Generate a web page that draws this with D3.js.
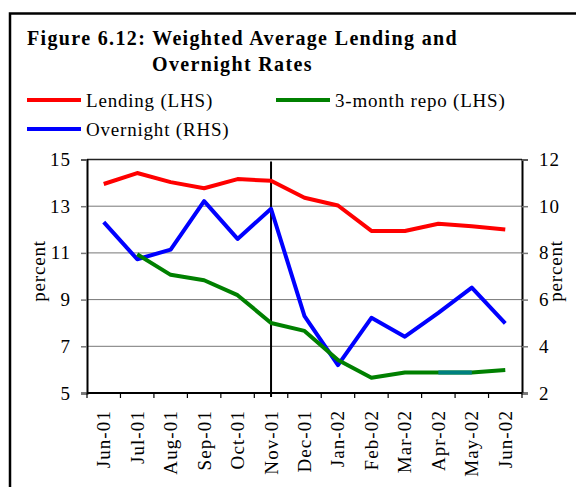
<!DOCTYPE html>
<html>
<head>
<meta charset="utf-8">
<script src="https://cdn.jsdelivr.net/npm/d3@7"></script>
<style>
  body { margin: 0; background: #fff; }
  svg text { font-family: "Liberation Serif", "Times New Roman", serif; fill: #000; }
</style>
</head>
<body>
<svg id="chart" width="576" height="487"></svg>
<script>
// data
const months = ["Jun-01", "Jul-01", "Aug-01", "Sep-01", "Oct-01", "Nov-01", "Dec-01",
  "Jan-02", "Feb-02", "Mar-02", "Apr-02", "May-02", "Jun-02"];
const lending = [13.95, 14.42, 14.03, 13.77, 14.16, 14.09, 13.36, 13.03, 11.94, 11.94, 12.25, 12.14, 12.0];
const repo = [null, 10.94, 10.06, 9.83, 9.19, 8.0, 7.66, 6.41, 5.65, 5.88, 5.88, 5.88, 5.98];
const overnight = [9.32, 7.73, 8.14, 10.22, 8.6, 9.89, 5.29, 3.19, 5.22, 4.41, 5.43, 6.51, 4.98];
const leftTicks = [5, 7, 9, 11, 13, 15];
const rightTicks = [2, 4, 6, 8, 10, 12];
const markerMonth = "Nov-01";

const svg = d3.select("#chart");

// outer frame, runs off the right and bottom edge like the scan
svg.append("rect")
  .attr("x", 10).attr("y", 13.5)
  .attr("width", 620).attr("height", 520)
  .attr("fill", "none").attr("stroke", "#000").attr("stroke-width", 2.5);

// title
const title = svg.append("text")
  .attr("font-weight", "bold").attr("font-size", 20)
  .attr("letter-spacing", 1.35);
title.append("tspan").attr("x", 27).attr("y", 45)
  .text("Figure 6.12: Weighted Average Lending and");
title.append("tspan").attr("x", 152).attr("y", 71)
  .text("Overnight Rates");

// legend
const legendItems = [
  { name: "Lending (LHS)", color: "#ff0000", x: 27, y: 100 },
  { name: "3-month repo (LHS)", color: "#008000", x: 276, y: 100 },
  { name: "Overnight (RHS)", color: "#0000ff", x: 27, y: 129 }
];
const leg = svg.append("g").selectAll("g").data(legendItems).enter().append("g");
leg.append("line")
  .attr("x1", d => d.x).attr("x2", d => d.x + 54)
  .attr("y1", d => d.y).attr("y2", d => d.y)
  .attr("stroke", d => d.color).attr("stroke-width", 4);
leg.append("text")
  .attr("x", d => d.x + 59).attr("y", d => d.y + 7)
  .attr("font-size", 19).attr("letter-spacing", 0.8)
  .text(d => d.name);

// plot area
const plot = { left: 87, right: 522, top: 159.5, bottom: 393 };

const xScale = d3.scaleBand().domain(months).range([plot.left, plot.right]);
const yLeft = d3.scaleLinear().domain([5, 15]).range([plot.bottom, plot.top]);
const yRight = d3.scaleLinear().domain([2, 12]).range([plot.bottom, plot.top]);
const xMid = d => xScale(d) + xScale.bandwidth() / 2;

// gridlines
svg.append("g").selectAll("line")
  .data(leftTicks.slice(1))
  .enter().append("line")
  .attr("x1", plot.left).attr("x2", plot.right)
  .attr("y1", d => yLeft(d)).attr("y2", d => yLeft(d))
  .attr("stroke", d => d === 15 ? "#222" : "#777")
  .attr("stroke-width", d => d === 15 ? 1.6 : 1);

// left axis
const leftAxis = svg.append("g")
  .attr("transform", `translate(${plot.left},0)`)
  .call(d3.axisLeft(yLeft).tickValues(leftTicks).tickSize(6).tickPadding(10));
// right axis
const rightAxis = svg.append("g")
  .attr("transform", `translate(${plot.right},0)`)
  .call(d3.axisRight(yRight).tickValues(rightTicks).tickSize(6).tickPadding(11));

[leftAxis, rightAxis].forEach(ax => {
  ax.attr("font-family", null).attr("font-size", null);
  ax.select(".domain").attr("stroke", "#000").attr("stroke-width", 2);
  ax.selectAll(".tick line").attr("stroke", "#777").attr("stroke-width", 1.5);
  ax.selectAll(".tick text")
    .attr("font-size", 19).attr("letter-spacing", 1);
});

// bottom axis: ticks sit on band edges, labels on band centres
const xAxis = svg.append("g");
xAxis.append("line")
  .attr("x1", plot.left).attr("x2", plot.right)
  .attr("y1", plot.bottom).attr("y2", plot.bottom)
  .attr("stroke", "#000").attr("stroke-width", 2);
xAxis.selectAll(".edge")
  .data(months.map(m => xScale(m)).concat([plot.right]))
  .enter().append("line")
  .attr("class", "edge")
  .attr("x1", d => d).attr("x2", d => d)
  .attr("y1", plot.bottom).attr("y2", plot.bottom + 5)
  .attr("stroke", "#000").attr("stroke-width", 1.2);
xAxis.selectAll(".lab")
  .data(months)
  .enter().append("text")
  .attr("class", "lab")
  .attr("transform", d => `translate(${xMid(d) + 6.5},${plot.bottom + 17}) rotate(-90)`)
  .attr("text-anchor", "end")
  .attr("font-size", 19).attr("letter-spacing", 1.1)
  .text(d => d);

// axis titles
svg.append("text")
  .attr("transform", `translate(45,271) rotate(-90)`)
  .attr("text-anchor", "middle").attr("font-size", 19).attr("letter-spacing", 0.8)
  .text("percent");
svg.append("text")
  .attr("transform", `translate(562,271) rotate(-90)`)
  .attr("text-anchor", "middle").attr("font-size", 19).attr("letter-spacing", 0.8)
  .text("percent");

// vertical marker line at Nov-01
svg.append("line")
  .attr("x1", xMid(markerMonth)).attr("x2", xMid(markerMonth))
  .attr("y1", plot.top + 2).attr("y2", plot.bottom + 4)
  .attr("stroke", "#000").attr("stroke-width", 2);

// series lines
function drawSeries(values, yScale, color) {
  const line = d3.line()
    .defined(d => d[1] != null)
    .x(d => xMid(d[0]))
    .y(d => yScale(d[1]));
  svg.append("path")
    .datum(months.map((m, i) => [m, values[i]]))
    .attr("d", line)
    .attr("fill", "none")
    .attr("stroke", color)
    .attr("stroke-width", 4)
    .attr("stroke-linejoin", "round");
  return line;
}

drawSeries(lending, yLeft, "#ff0000");
drawSeries(overnight, yRight, "#0000ff");
const repoLine = drawSeries(repo, yLeft, "#008000");

// the scan shows the Apr-May piece of the repo line in teal
const tealFrom = months.indexOf("Apr-02");
svg.append("path")
  .datum(months.map((m, i) => [m, repo[i]]).slice(tealFrom, tealFrom + 2))
  .attr("d", repoLine)
  .attr("fill", "none")
  .attr("stroke", "#008080")
  .attr("stroke-width", 4);
</script>
</body>
</html>
